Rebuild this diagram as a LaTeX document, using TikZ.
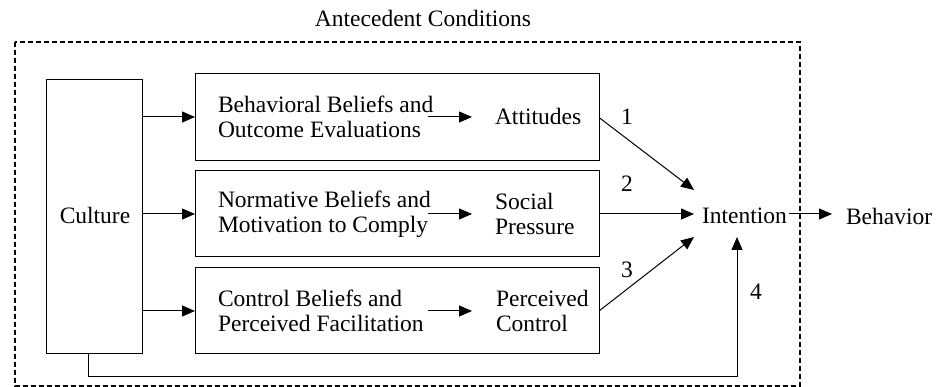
\documentclass[tikz,border=0pt]{standalone}
\usepackage{fontspec}
\setmainfont{Liberation Serif}
\usetikzlibrary{arrows.meta}
\begin{document}
\begin{tikzpicture}[x=1pt,y=-1pt,
  font=\fontsize{23.5}{25}\selectfont,
  every node/.style={inner sep=0pt,outer sep=0pt},
  frame/.style={draw,line width=1pt},
  txt/.style={align=left,anchor=west},
  arr/.style={line width=1pt,-{Triangle[length=13pt,width=11pt]}},
  lbl/.style={anchor=center}]
\useasboundingbox (0,0) rectangle (948,387);
% outer dashed frame
\draw[line width=1.2pt,dash pattern=on 5pt off 3pt] (15,42) rectangle (800,386);
\node (title) at (423,18) {Antecedent Conditions};
% boxes
\node[frame,minimum width=96pt,minimum height=274pt] (cul) at (94,217) {};
\node (cultxt) at (95,215) {Culture};
\node[frame,minimum width=404pt,minimum height=87pt] (r1) at (397,117.5) {};
\node[frame,minimum width=404pt,minimum height=86pt] (r2) at (397,214) {};
\node[frame,minimum width=404pt,minimum height=86pt] (r3) at (397,311) {};
% texts
\node[txt] (b1) at (218,117) {Behavioral Beliefs and\\Outcome Evaluations};
\node[txt] (b2) at (218,214) {Normative Beliefs and\\Motivation to Comply};
\node[txt] (b3) at (218,311) {Control Beliefs and\\Perceived Facilitation};
\node[txt] (a1) at (495,116) {Attitudes};
\node[txt] (a2) at (495,214) {Social\\Pressure};
\node[txt] (a3) at (496,311) {Perceived\\Control};
\node (int) at (744.5,216) {Intention};
\node[txt] (beh) at (846,216) {Behavior};
% culture arrows
\coordinate (c1) at (142,117);
\coordinate (c2) at (142,214);
\coordinate (c3) at (142,311);
\draw[arr] (c1) -- (r1.west |- c1);
\draw[arr] (c2) -- (r2.west |- c2);
\draw[arr] (c3) -- (r3.west |- c3);
% inner arrows
\coordinate (i1s) at (428,117); \coordinate (i1e) at (472,117);
\coordinate (i2s) at (428,214); \coordinate (i2e) at (472,214);
\coordinate (i3s) at (428,311); \coordinate (i3e) at (472,311);
\draw[arr] (i1s) -- (i1e);
\draw[arr] (i2s) -- (i2e);
\draw[arr] (i3s) -- (i3e);
% to intention
\coordinate (t1) at (694,190);
\coordinate (t2) at (694,214);
\coordinate (t3) at (694,237);
\coordinate (t4) at (737,237);
\draw[arr] (r1.east) -- (t1);
\draw[arr] (r2.east) -- (t2);
\draw[arr] (r3.east |- c3) -- (t3);
\coordinate (cb) at (88,354);
\draw[arr] (cb) -- (88,376) -| (t4);
% intention to behavior
\coordinate (ib) at (789,214);
\coordinate (be) at (832,214);
\draw[arr] (ib) -- (be);
% labels
\node[lbl] (n1) at (627,117) {1};
\node[lbl] (n2) at (627,184) {2};
\node[lbl] (n3) at (627,270) {3};
\node[lbl] (n4) at (756,292) {4};
\end{tikzpicture}
\end{document}
